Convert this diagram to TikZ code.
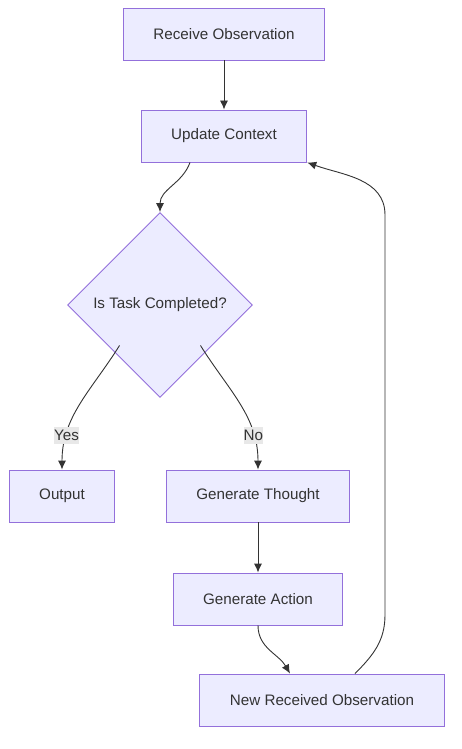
\documentclass[tikz,border=0pt]{standalone}
\usepackage{fontspec}
\setmainfont{Liberation Sans}
\usetikzlibrary{shapes.geometric,arrows.meta,positioning}
\definecolor{boxfill}{HTML}{ECECFF}
\definecolor{boxline}{HTML}{9370DB}
\definecolor{edgeline}{HTML}{333333}
\definecolor{labelfill}{HTML}{E8E8E8}
\tikzset{step node/.style={rectangle, draw=boxline, fill=boxfill, line width=0.9pt,
    minimum height=52pt, inner xsep=30pt, text=edgeline,
    font=\fontsize{15.2}{18}\selectfont}}
\tikzset{decision node/.style={diamond, aspect=1, draw=boxline, fill=boxfill, line width=0.9pt,
    minimum width=185pt, minimum height=185pt, inner sep=0pt, text=edgeline,
    font=\fontsize{15.2}{18}\selectfont}}
\tikzset{regular edge/.style={draw=edgeline, line width=0.9pt, -{Latex[length=9pt,width=8pt]}}}
\tikzset{edge label/.style={fill=labelfill, inner xsep=0pt, inner ysep=3pt, text=edgeline,
    font=\fontsize{15.2}{18}\selectfont}}

\begin{document}
\begin{tikzpicture}
  [x=1pt, y=-1pt]
  \useasboundingbox (0,0) rectangle (461,749);

  \node [step node]     (receive)  at (224,  34) {Receive Observation};
  \node [step node]     (update)   at (224, 136) {Update Context};
  \node [decision node] (decision) at (160, 305) {Is Task Completed?};
  \node [step node]     (output)   at ( 62, 496) {Output};
  \node [step node]     (thought)  at (258, 496) {Generate Thought};
  \node [step node]     (action)   at (258, 599) {Generate Action};
  \node [step node]     (newobs)   at (322, 700) {New Received Observation};

  \coordinate (loopbot) at (385, 615);
  \coordinate (looptop) at (385, 215);

  \draw [regular edge] (receive)                    to                                          (update);
  \draw [regular edge] ([xshift=-34pt]update.south) to [out=-110,in=90]                         (decision.north);
  \draw [regular edge] ([shift={(6pt,6pt)}]decision.south west) to [out=-122,in=90] node [edge label,pos=0.76] {Yes} (output.north);
  \draw [regular edge] ([shift={(-6pt,6pt)}]decision.south east) to [out=-58,in=90] node [edge label,pos=0.76] {No}  (thought.north);
  \draw [regular edge] (thought)                    to                                          (action);
  \draw [regular edge] (action.south)               to [out=-90,in=120]                         ([xshift=-32pt]newobs.north);
  \draw [regular edge] ([xshift=33pt]newobs.north)  to [out=45,in=-90] (loopbot) -- (looptop)
                                                    to [out=90,in=-20]                          (update.south east);
\end{tikzpicture}
\end{document}
